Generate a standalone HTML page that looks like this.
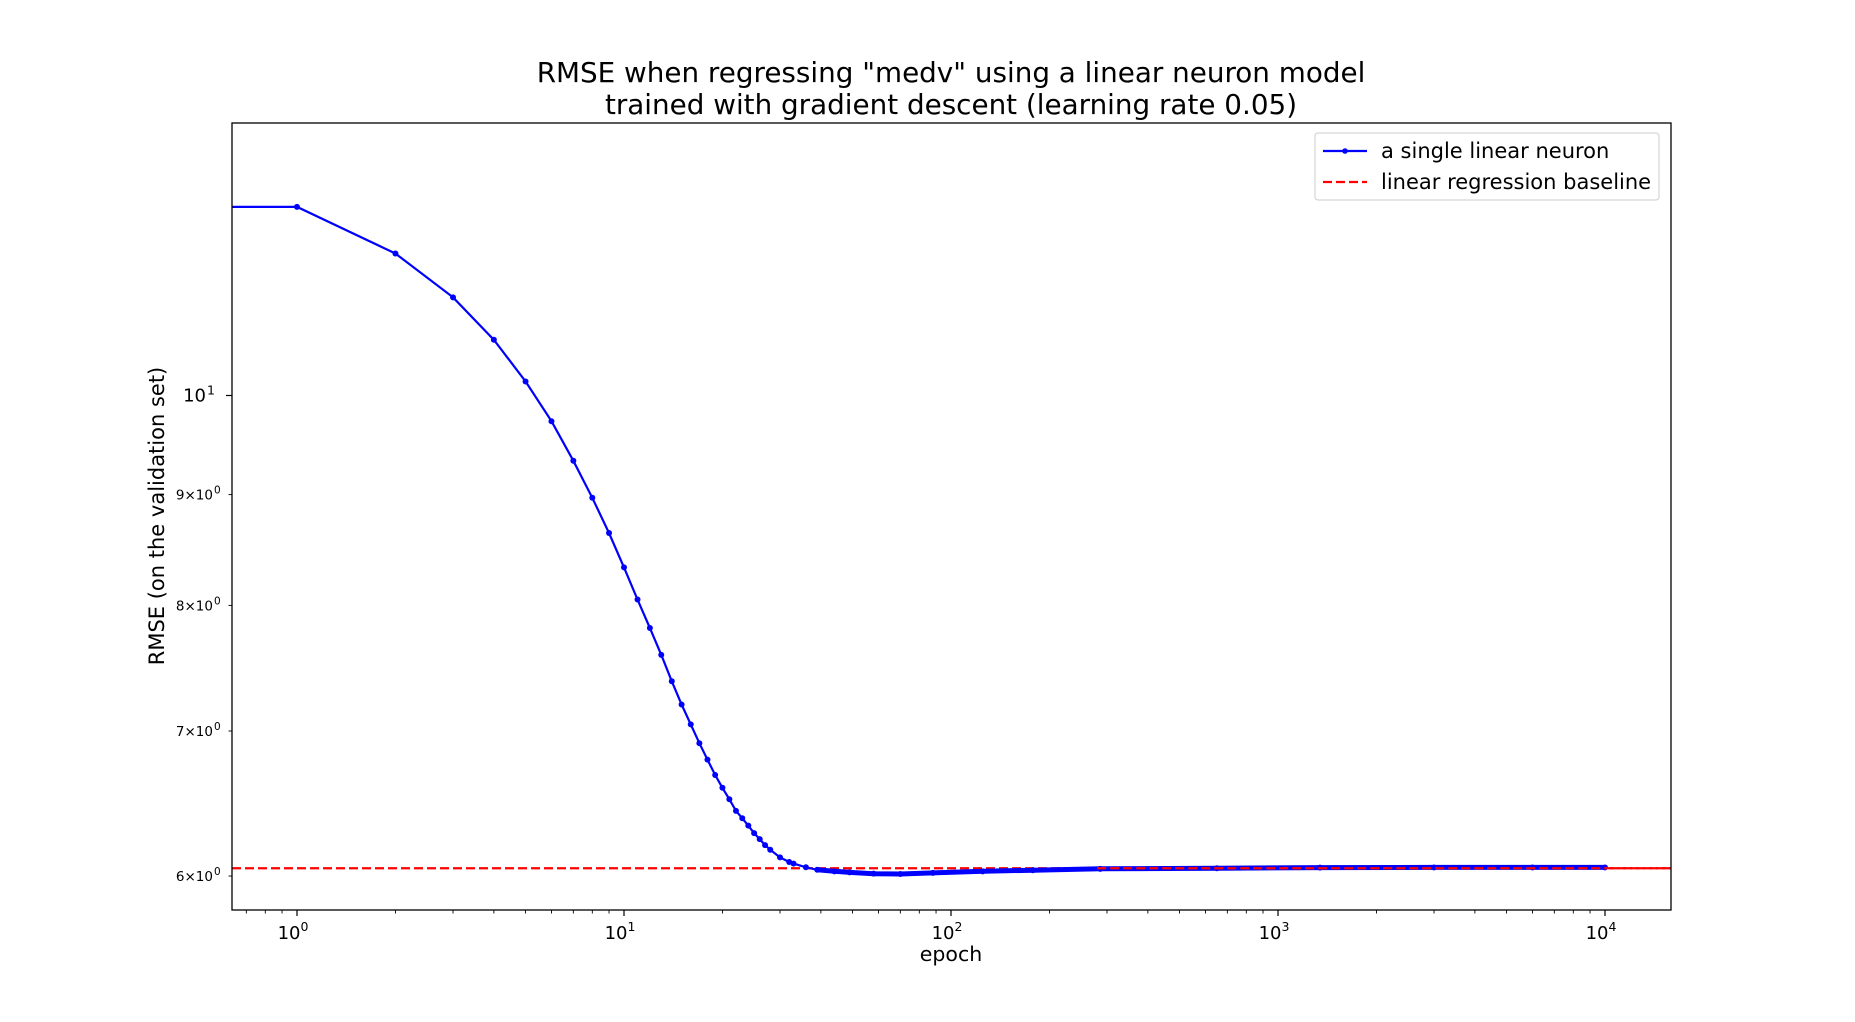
<!DOCTYPE html>
<html><head><meta charset="utf-8">
<style>
html,body{margin:0;padding:0;background:#fff;}
svg{display:block;font-family:"DejaVu Sans","Liberation Sans",sans-serif;}
</style></head>
<body>
<svg id="chart" width="1855" height="1022" viewBox="0 0 1855 1022" xmlns="http://www.w3.org/2000/svg">
<rect width="1855" height="1022" fill="#fff"/>
<text x="951" y="82" font-size="27.8" text-anchor="middle">RMSE when regressing "medv" using a linear neuron model</text>
<text x="951" y="114" font-size="27.8" text-anchor="middle">trained with gradient descent (learning rate 0.05)</text>
<defs><clipPath id="plotclip"><rect x="232" y="123" width="1439" height="787"/></clipPath></defs>
<g id="grid-ticks"></g>
<g id="series" clip-path="url(#plotclip)"></g>
<rect x="232" y="123" width="1439" height="787" fill="none" stroke="#000" stroke-width="1.3"/>
<text x="951" y="961" font-size="20.5" text-anchor="middle">epoch</text>
<text x="0" y="0" font-size="21" text-anchor="middle" transform="translate(164,516) rotate(-90)">RMSE (on the validation set)</text>
<g>
<rect x="1315" y="133" width="344" height="67" rx="3" fill="#fff" stroke="#ccc" stroke-width="1"/>
<line x1="1323" y1="151" x2="1367" y2="151" stroke="#0000ff" stroke-width="2.2"/>
<circle cx="1345" cy="151" r="2.8" fill="#0000ff"/>
<text x="1381" y="158" font-size="21">a single linear neuron</text>
<line x1="1323" y1="182" x2="1367" y2="182" stroke="#ff0000" stroke-width="2.2" stroke-dasharray="9,4"/>
<text x="1381" y="189" font-size="21">linear regression baseline</text>
</g>
</svg>
<script>
const epochs = [1,2,3,4,5,6,7,8,9,10,11,12,13,14,15,16,17,18,19,20,21,22,23,24,25,26,27,28,30,32,33,36,39,44,49,58,70,88,125,178,286,650,1344,3000,6000,10000];
const rmse = [12.22,11.63,11.10,10.61,10.15,9.73,9.33,8.97,8.64,8.33,8.05,7.81,7.59,7.38,7.20,7.05,6.91,6.79,6.68,6.59,6.51,6.43,6.38,6.33,6.28,6.24,6.20,6.17,6.12,6.09,6.08,6.056,6.04,6.03,6.023,6.015,6.013,6.02,6.03,6.037,6.046,6.05,6.054,6.055,6.055,6.055];
const baseline = [6.05];
const xTickVals = [1,10,100,1000,10000];
const xTickExp = ["0","1","2","3","4"];
const yTickVals = [6,7,8,9,10];
const yTickLabels = [["6","0"],["7","0"],["8","0"],["9","0"],["10","1"]];

const NS="http://www.w3.org/2000/svg";
const L=232,R=1671,T=123,B=910;
const X0=297, XDEC=327;
const Y10=395.5, YDEC=2166;
function xs(v){return X0+XDEC*Math.log10(v);}
function ys(v){return Y10-YDEC*(Math.log10(v)-1);}
function mk(tag,attrs,parent){const e=document.createElementNS(NS,tag);for(const k in attrs)e.setAttribute(k,attrs[k]);parent.appendChild(e);return e;}

const tg=document.getElementById('grid-ticks');
for(let d=-1;d<=4;d++){
  for(let m=1;m<10;m++){
    const v=m*Math.pow(10,d);
    const x=xs(v);
    if(x<L||x>R)continue;
    const major=(m===1);
    const t=mk('line',{x1:x,y1:B,x2:x,y2:B+(major?6:3.5),stroke:'#000','stroke-width':major?1.2:0.9},tg);
    
    
  }
}
xTickVals.forEach((v,i)=>{
  const t=mk('text',{x:xs(v)-4,y:B+29,'font-size':18,'text-anchor':'middle'},tg);
  
  
  t.appendChild(document.createTextNode('10'));
  const s=mk('tspan',{'font-size':12.5,dy:-8},t);
  s.textContent=xTickExp[i];
});
yTickVals.forEach((v,i)=>{
  const y=ys(v);
  const major=(v===10);
  const t=mk('line',{x1:L,y1:y,x2:L-(major?6:3.5),y2:y,stroke:'#000','stroke-width':major?1.2:0.9},tg);
  
  
  const lab=yTickLabels[i];
  let txt;
  if(major){
    txt=mk('text',{x:L-26,y:y+6,'font-size':18,'text-anchor':'end'},tg);
    txt.appendChild(document.createTextNode('10'));
  } else {
    txt=mk('text',{x:L-19,y:y+5,'font-size':13.5,'text-anchor':'end'},tg);
    txt.appendChild(document.createTextNode(lab[0]+'\u00d710'));
  }
  
  
  const s=mk('text',{x:txt.getAttribute('x')-0+1,y:y-1,'font-size':major?12.5:10.5,'text-anchor':'start'},tg);
  s.textContent=lab[1];
  
  
});

const sg=document.getElementById('series');
const bl=mk('line',{x1:L,y1:ys(baseline[0]),x2:R,y2:ys(baseline[0]),stroke:'#ff0000','stroke-width':2.2,'stroke-dasharray':'9,4'},sg);


let d='M'+L+','+ys(rmse[0]);
epochs.forEach((e,i)=>{d+=' L'+xs(e).toFixed(1)+','+ys(rmse[i]).toFixed(1);});
const pl=mk('path',{d:d,fill:'none',stroke:'#0000ff','stroke-width':2.2},sg);


let d2='';
epochs.forEach((e,i)=>{if(e>=39){d2+=(d2?' L':'M')+xs(e).toFixed(1)+','+ys(rmse[i]).toFixed(1);}});
const band=mk('path',{d:d2,fill:'none',stroke:'#0000ff','stroke-width':5,'stroke-linecap':'round'},sg);


epochs.forEach((e,i)=>{
  const c=mk('circle',{cx:xs(e),cy:ys(rmse[i]),r:3,fill:'#0000ff'},sg);
  
  
});
const bl2=mk('line',{x1:xs(280),y1:ys(baseline[0]),x2:R,y2:ys(baseline[0]),stroke:'#ff0000','stroke-width':2.2,'stroke-dasharray':'9,4'},sg);


</script>
</body></html>
